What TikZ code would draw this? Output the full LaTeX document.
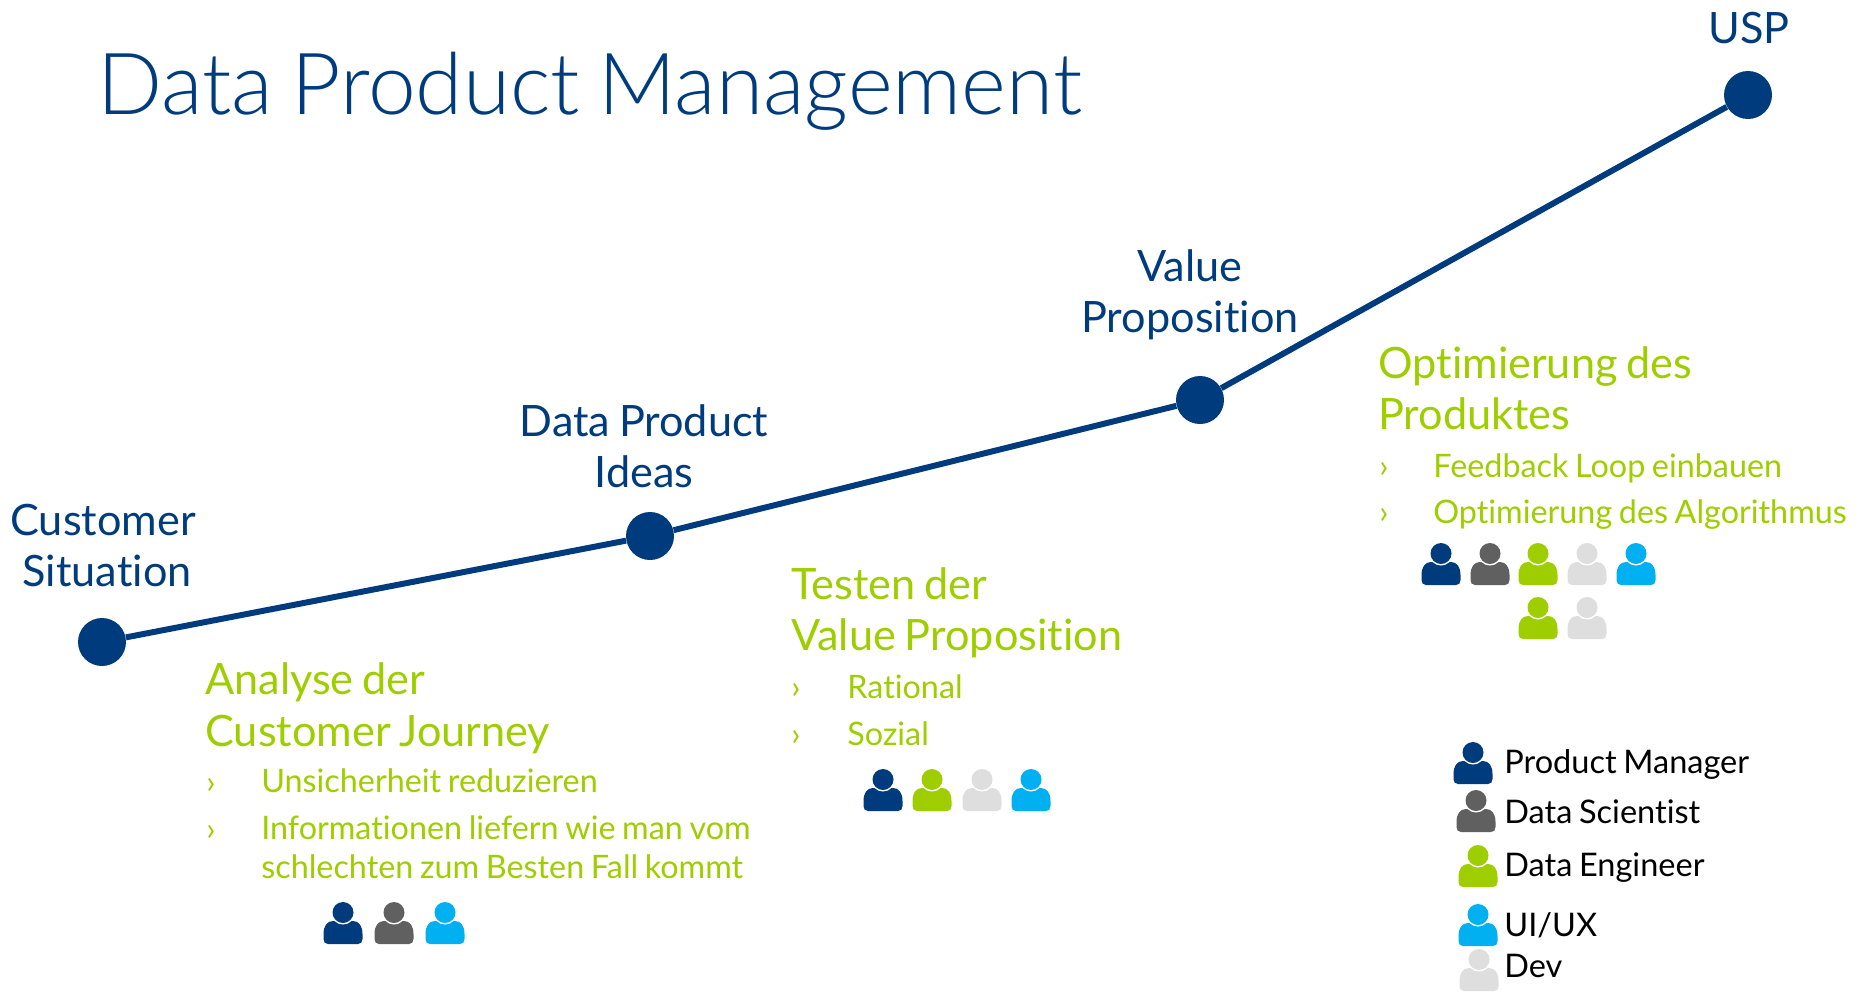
\documentclass[tikz,border=0pt]{standalone}
\usepackage{fontspec}
\usepackage{xcolor}
\setmainfont[Ligatures=NoCommon,WordSpace=0.8]{Lato}
\newfontfamily\titlefont[WordSpace=0.78]{Lato Light}
\definecolor{navy}{HTML}{003C7D}
\definecolor{lime}{HTML}{9FCE00}
\definecolor{slate}{HTML}{606060}
\definecolor{sky}{HTML}{00B0F0}
\definecolor{mist}{HTML}{DEDEDE}
\newcommand{\person}[3]{
  \begin{scope}[shift={(#1,#2)}]
    \fill [#3] (-15,42) -- (15,42) .. controls (18,42) and (19.5,40) .. (19.5,37) -- (19.5,32) .. controls (19.5,24) and (16,19) .. (10,19) -- (-10,19) .. controls (-16,19) and (-19.5,24) .. (-19.5,32) -- (-19.5,37) .. controls (-19.5,40) and (-18,42) .. (-15,42) -- cycle;
    \fill [white] (0,10.5) circle (12);
    \fill [#3] (0,10.5) circle (10.5);
  \end{scope}
}
\tikzset{
  dot/.style={circle,fill=navy,inner sep=0pt,minimum size=0.96cm},
  stage/.style={text=navy,inner sep=0pt,align=center,anchor=base,font=\fontsize{24.6}{29}\selectfont},
  heading/.style={text=lime,inner sep=0pt,align=left,anchor=base west,font=\fontsize{24.6}{29}\selectfont},
  item/.style={text=lime,inner sep=0pt,align=left,anchor=base west,font=\fontsize{18.4}{22}\selectfont},
  legend/.style={text=black,inner sep=0pt,anchor=base west,font=\fontsize{18.5}{22}\selectfont}
}

\begin{document}
\begin{tikzpicture}[x=0.02cm,y=-0.02cm]
\useasboundingbox (0,0) rectangle (1860,991);
\node [inner sep=0pt,anchor=base west,text=navy,font=\fontsize{48.8}{58}\titlefont] (title) at (97,114) {Data Product Management};
\node [dot] (customer) at (102,642) {};
\node [dot] (ideas) at (650,536) {};
\node [dot] (value) at (1200,400) {};
\node [dot] (usp) at (1748,95) {};
\draw [navy,line width=3.4pt] (customer) -- (ideas) -- (value) -- (usp);
\node [stage] (customerlabel) at (103,586) {Customer\\\hspace*{4.6pt}Situation};
\node [stage] (ideaslabel) at (644,487) {Data Product\\Ideas};
\node [stage] (valuelabel) at (1190,332) {Value\\Proposition};
\node [stage] (usplabel) at (1749,43) {USP};
\node [heading] (analyse) at (205,746) {Analyse der\\[0.6pt]Customer Journey};
\node [heading] (testen) at (791,650) {Testen der\\Value Proposition};
\node [heading] (optimierung) at (1378,429) {Optimierung des\\Produktes};
\foreach \x/\y/\name/\label in {261/792/unsicher/Unsicherheit reduzieren,261/878/infos/{Informationen liefern wie man vom\\schlechten zum Besten Fall kommt},847/698/rational/Rational,847/745/sozial/Sozial,1433/477/feedback/Feedback Loop einbauen,1433/523/algo/Optimierung des Algorithmus} {
  \node [item] (\name) at (\x,\y) {\label};
}
\foreach \x/\y/\name in {206/793/a,206/840/b,791/698/c,791/745/d,1379/477/e,1379/523/f} {
  \node [item] (bullet\name) at (\x,\y) {›};
}
\foreach \x/\y/\col in {343/902/navy,394/902/slate,445/902/sky,883/769/navy,932/769/lime,982/769/mist,1031/769/sky,1441/543/navy,1490/543/slate,1538/543/lime,1587/543/mist,1636/543/sky,1538/597/lime,1587/597/mist,1473/742/navy,1476/790/slate,1478/845/lime,1478/904/sky,1479/949/mist} {
  \person{\x}{\y}{\col}
}
\foreach \y/\name/\label in {773/pm/Product Manager,823/ds/Data Scientist,876/de/Data Engineer,936/ux/{UI/UX},977/dev/Dev} {
  \node [legend] (\name) at (1504,\y) {\label};
}
\end{tikzpicture}
\end{document}
